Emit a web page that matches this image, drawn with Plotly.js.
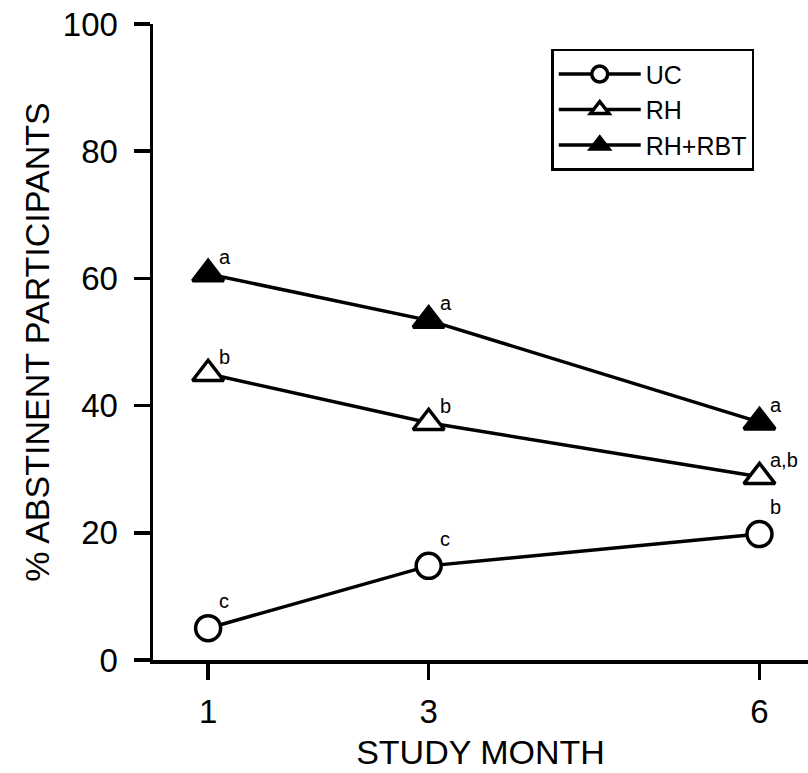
<!DOCTYPE html>
<html>
<head>
<meta charset="utf-8">
<script src="https://cdn.plot.ly/plotly-3.0.1.min.js"></script>
<style>html,body{margin:0;padding:0;background:#fff;}#chart{width:808px;height:773px;}</style>
</head>
<body>
<div id="chart"></div>
<script>
// Data
const months = [1, 3, 6];
const seriesNames = ['UC', 'RH', 'RH+RBT'];
const ucValues = [5.0, 14.8, 19.8];
const rhValues = [45.0, 37.3, 28.8];
const rhRbtValues = [60.7, 53.4, 37.4];
const ucLabels = ['c', 'c', 'b'];
const rhLabels = ['b', 'b', 'a,b'];
const rhRbtLabels = ['a', 'a', 'a'];
const yTickVals = [0, 20, 40, 60, 80, 100];
const xTickVals = [1, 3, 6];

const FONT = 'Liberation Sans, Arial, Helvetica, sans-serif';

const seriesDefs = [
  {name: seriesNames[0], y: ucValues, labels: ucLabels, symbol: 'circle', fill: '#fff', size: 25, lshift: 14},
  {name: seriesNames[1], y: rhValues, labels: rhLabels, symbol: 'triangle-up', fill: '#fff', size: 27, lshift: 4},
  {name: seriesNames[2], y: rhRbtValues, labels: rhRbtLabels, symbol: 'triangle-up', fill: '#000', size: 27, lshift: 4}
];

const traces = seriesDefs.map(s => ({
  type: 'scatter',
  mode: 'lines+markers',
  name: s.name,
  x: months,
  y: s.y,
  line: {color: '#000', width: 3.5},
  marker: {symbol: s.symbol, size: s.size, color: s.fill,
           line: {color: '#000', width: 3.5}},
  cliponaxis: false
}));

const annotations = [];
seriesDefs.forEach(s => {
  s.y.forEach((v, i) => {
    annotations.push({
      x: months[i], y: v, xref: 'x', yref: 'y',
      text: s.labels[i], showarrow: false,
      xanchor: 'left', yanchor: 'bottom',
      xshift: 9, yshift: s.lshift,
      font: {family: FONT, size: 20, color: '#000'}
    });
  });
});

const layout = {
  width: 808, height: 773,
  margin: {l: 153, r: 0, t: 24, b: 113},
  paper_bgcolor: '#fff', plot_bgcolor: '#fff',
  font: {family: FONT, color: '#000'},
  showlegend: true,
  legend: {
    x: 0.608, y: 0.961, xanchor: 'left', yanchor: 'top',
    bordercolor: '#000', borderwidth: 2.5, bgcolor: '#fff',
    font: {family: FONT, size: 25, color: '#000'},
    itemwidth: 82,
    entrywidth: 236,
    tracegroupgap: 0
  },
  xaxis: {
    range: [0.5, 6.44],
    tickvals: xTickVals,
    ticktext: xTickVals.map(String),
    ticks: 'outside', ticklen: 16, tickwidth: 3.5, tickcolor: '#000',
    showline: true, linewidth: 3.5, linecolor: '#000',
    showgrid: false, zeroline: false,
    tickfont: {family: FONT, size: 33, color: '#000'},
    ticklabelstandoff: 4,
    title: {text: 'STUDY MONTH', font: {family: FONT, size: 34, color: '#000'}, standoff: 12}
  },
  yaxis: {
    range: [0, 100],
    tickvals: yTickVals,
    ticktext: yTickVals.map(String),
    ticks: 'outside', ticklen: 16, tickwidth: 3.5, tickcolor: '#000',
    showline: true, linewidth: 3.5, linecolor: '#000',
    showgrid: false, zeroline: false,
    tickfont: {family: FONT, size: 33, color: '#000'},
    ticklabelstandoff: 9,
    title: {text: '% ABSTINENT PARTICIPANTS', font: {family: FONT, size: 34, color: '#000'}, standoff: 4}
  },
  annotations: annotations
};

Plotly.newPlot('chart', traces, layout, {displayModeBar: false, staticPlot: true});
</script>
</body>
</html>
